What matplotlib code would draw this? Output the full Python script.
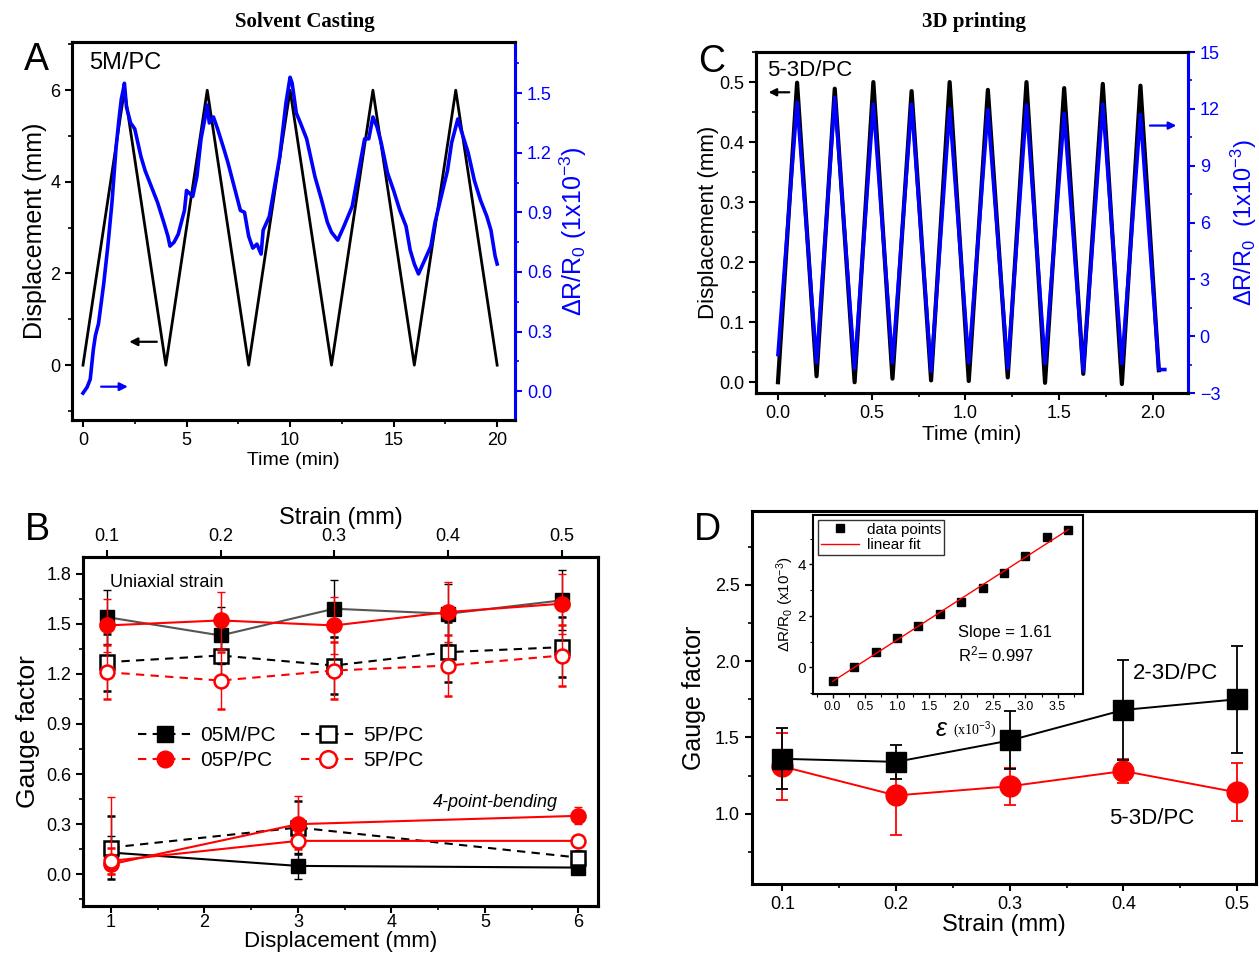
import numpy as np
import matplotlib
matplotlib.use("Agg")
import matplotlib.pyplot as plt
from matplotlib.ticker import MultipleLocator
from matplotlib.lines import Line2D

plt.rcParams['font.family'] = ['Liberation Sans', 'DejaVu Sans']
plt.rcParams['mathtext.fontset'] = 'custom'
plt.rcParams['mathtext.rm'] = 'Liberation Sans'
plt.rcParams['mathtext.it'] = 'Liberation Sans:italic'

BLUE = '#0000ff'
RED = '#ff0000'

# ---------------- Panel A data ----------------
a_time_disp = [0, 2, 4, 6, 8, 10, 12, 14, 16, 18, 20]
a_disp = [0, 6, 0, 6, 0, 6, 0, 6, 0, 6, 0]
a_time_res = [0.0, 0.2, 0.35, 0.5, 0.6, 0.75, 1.0, 1.2, 1.4, 1.6, 1.75, 1.85, 1.95, 2.0, 2.1,
              2.3, 2.5, 2.8, 3.0, 3.3, 3.6, 3.9, 4.1, 4.2, 4.4, 4.6, 4.9, 5.0, 5.3, 5.5,
              5.7, 5.9, 6.0, 6.1, 6.3, 6.5, 6.8, 7.0, 7.3, 7.6, 7.8, 8.0, 8.2, 8.4, 8.6,
              8.7, 9.0, 9.3, 9.5, 9.8, 10.0, 10.1, 10.3, 10.5, 10.8, 11.2, 11.5, 11.8, 12.0,
              12.3, 12.6, 13.0, 13.3, 13.6, 13.8, 14.0, 14.2, 14.4, 14.7, 15.0, 15.3, 15.6,
              15.8, 16.0, 16.2, 16.5, 16.8, 17.0, 17.3, 17.6, 17.8, 18.0, 18.1, 18.3, 18.6,
              18.9, 19.2, 19.5, 19.7, 19.9, 20.0]
a_res = [-0.01, 0.02, 0.06, 0.21, 0.28, 0.34, 0.54, 0.73, 0.95, 1.23, 1.38, 1.47, 1.52, 1.55, 1.43,
         1.35, 1.32, 1.18, 1.11, 1.03, 0.95, 0.85, 0.78, 0.73, 0.75, 0.79, 0.91, 1.01, 0.98, 1.08,
         1.27, 1.38, 1.44, 1.35, 1.38, 1.32, 1.22, 1.15, 1.03, 0.91, 0.90, 0.78, 0.72, 0.74, 0.69,
         0.81, 0.88, 1.06, 1.18, 1.45, 1.58, 1.55, 1.40, 1.35, 1.27, 1.08, 0.97, 0.85, 0.80,
         0.76, 0.83, 0.93, 1.10, 1.27, 1.27, 1.38, 1.33, 1.25, 1.10, 1.01, 0.91, 0.83,
         0.71, 0.64, 0.59, 0.66, 0.73, 0.85, 0.98, 1.11, 1.25, 1.33, 1.37, 1.30, 1.20,
         1.06, 0.96, 0.88, 0.81, 0.68, 0.64]

# ---------------- Panel C data ----------------
c_time = [0.0, 0.102, 0.206, 0.303, 0.409, 0.509, 0.611, 0.713, 0.817, 0.916, 1.018,
          1.12, 1.226, 1.326, 1.425, 1.527, 1.629, 1.733, 1.835, 1.934, 2.032]
c_disp = [0.0, 0.499, 0.01, 0.489, 0.0, 0.50, 0.006, 0.485, 0.003, 0.50, 0.002,
          0.487, 0.008, 0.50, -0.001, 0.49, 0.014, 0.497, -0.003, 0.494, 0.02]
c_time_res = [0.0, 0.102, 0.206, 0.303, 0.409, 0.509, 0.611, 0.713, 0.817, 0.916, 1.018,
              1.12, 1.226, 1.326, 1.425, 1.527, 1.629, 1.733, 1.835, 1.934, 2.032, 2.064]
c_res = [-0.97, 12.35, -1.4, 12.6, -1.7, 12.25, -1.4, 12.25, -1.85, 12.0, -1.4,
         11.95, -1.7, 12.2, -1.45, 11.75, -1.85, 12.25, -1.45, 11.7, -1.76, -1.76]

# ---------------- Panel B data ----------------
strain_b = [0.1, 0.2, 0.3, 0.4, 0.5]
gf_05M_uni = [1.54, 1.43, 1.59, 1.56, 1.64]
err_05M_uni = [0.16, 0.17, 0.17, 0.18, 0.18]
gf_05P_uni = [1.49, 1.52, 1.49, 1.57, 1.62]
err_05P_uni = [0.16, 0.17, 0.17, 0.18, 0.18]
gf_5Psq_uni = [1.27, 1.31, 1.25, 1.33, 1.36]
err_5Psq_uni = [0.17, 0.17, 0.17, 0.18, 0.18]
gf_5Pci_uni = [1.21, 1.16, 1.22, 1.25, 1.31]
err_5Pci_uni = [0.16, 0.17, 0.17, 0.18, 0.18]

disp_b = [1, 3, 6]
gf_05M_bend = [0.13, 0.05, 0.04]
err_05M_bend = [0.10, 0.08, 0.02]
gf_5Psq_bend = [0.16, 0.28, 0.10]
err_5Psq_bend = [0.19, 0.16, 0.04]
gf_05P_bend = [0.06, 0.30, 0.35]
err_05P_bend_low = [0.06, 0.12, 0.05]
err_05P_bend_high = [0.40, 0.17, 0.05]
gf_5Pci_bend = [0.08, 0.20, 0.20]
err_5Pci_bend = [0.08, 0.05, 0.03]

# ---------------- Panel D data ----------------
strain_d = [0.1, 0.2, 0.3, 0.4, 0.5]
gf_2_3D = [1.36, 1.34, 1.48, 1.68, 1.75]
err_2_3D = [0.20, 0.11, 0.19, 0.33, 0.35]
gf_5_3D = [1.31, 1.12, 1.18, 1.28, 1.14]
err_5_3D = [0.22, 0.26, 0.12, 0.08, 0.19]

inset_eps = [0.0, 0.333, 0.667, 1.0, 1.333, 1.667, 2.0, 2.333, 2.667, 3.0, 3.333, 3.667]
inset_dr = [-0.53, 0.0, 0.61, 1.12, 1.60, 2.06, 2.53, 3.08, 3.68, 4.31, 5.05, 5.32]

# ---------------- Figure ----------------
fig = plt.figure(figsize=(12.59, 9.57), dpi=100)

SPW = 2.2

def style_axes(ax):
    for s in ax.spines.values():
        s.set_linewidth(SPW)
    ax.tick_params(which='major', direction='out', length=5, width=1.5, labelsize=12)
    ax.tick_params(which='minor', direction='out', length=3, width=1.2)

# ---- Panel A ----
axA = fig.add_axes([0.0572, 0.561, 0.352, 0.395])
axA.plot(a_time_disp, a_disp, color='black', lw=2)
axA.set_xlim(-0.53, 20.87)
axA.set_ylim(-1.2, 7.05)
axA.xaxis.set_major_locator(MultipleLocator(5))
axA.xaxis.set_minor_locator(MultipleLocator(2.5))
axA.yaxis.set_major_locator(MultipleLocator(2))
axA.yaxis.set_minor_locator(MultipleLocator(1))
axA.set_xlabel('Time (min)', fontsize=14, labelpad=2)
axA.set_ylabel('Displacement (mm)', fontsize=18, labelpad=2)
style_axes(axA)
axA.tick_params(which='major', labelsize=13)
axA.annotate('', xy=(2.1, 0.51), xytext=(3.7, 0.51),
             arrowprops=dict(arrowstyle='-|>', color='black', lw=1.6, mutation_scale=12))
axA.annotate('', xy=(2.3, -0.47), xytext=(0.74, -0.47),
             arrowprops=dict(arrowstyle='-|>', color=BLUE, lw=1.6, mutation_scale=12))
axA.text(0.3, 6.6, '5M/PC', fontsize=17, va='center', ha='left')

axA2 = axA.twinx()
axA2.plot(a_time_res, a_res, color=BLUE, lw=2.6)
axA2.set_ylim(-0.146, 1.757)
axA2.yaxis.set_major_locator(MultipleLocator(0.3))
axA2.yaxis.set_minor_locator(MultipleLocator(0.15))
axA2.yaxis.set_major_formatter(matplotlib.ticker.FormatStrFormatter('%.1f'))
style_axes(axA2)
axA2.tick_params(which='major', labelsize=13)
axA2.spines['right'].set_color(BLUE)
axA2.tick_params(axis='y', which='both', colors=BLUE)
axA2.set_ylabel(r'$\Delta$R/R$_0$ (1x10$^{-3}$)', fontsize=18, color=BLUE, labelpad=4)

fig.text(0.242, 0.977, 'Solvent Casting', fontsize=15, fontweight='bold',
         family='Liberation Serif', ha='center', va='center')
fig.text(0.029, 0.937, 'A', fontsize=27, ha='center', va='center')

# ---- Panel C ----
axC = fig.add_axes([0.6005, 0.5893, 0.343, 0.3563])
axC.plot(c_time, c_disp, color='black', lw=3)
axC.set_xlim(-0.117, 2.187)
axC.set_ylim(-0.018, 0.55)
axC.xaxis.set_major_locator(MultipleLocator(0.5))
axC.xaxis.set_minor_locator(MultipleLocator(0.25))
axC.yaxis.set_major_locator(MultipleLocator(0.1))
axC.yaxis.set_minor_locator(MultipleLocator(0.05))
axC.yaxis.set_major_formatter(matplotlib.ticker.FormatStrFormatter('%.1f'))
axC.xaxis.set_major_formatter(matplotlib.ticker.FormatStrFormatter('%.1f'))
axC.set_xlabel('Time (min)', fontsize=15, labelpad=2)
axC.set_ylabel('Displacement (mm)', fontsize=16, labelpad=0)
style_axes(axC)
axC.tick_params(which='major', labelsize=13)
axC.annotate('', xy=(-0.065, 0.483), xytext=(0.075, 0.483),
             arrowprops=dict(arrowstyle='-|>', color='black', lw=1.6, mutation_scale=11))
axC.text(-0.06, 0.52, '5-3D/PC', fontsize=16, va='center', ha='left')

axC2 = axC.twinx()
axC2.plot(c_time_res, c_res, color=BLUE, lw=2.6)
axC2.set_ylim(-3, 15)
axC2.yaxis.set_major_locator(MultipleLocator(3))
axC2.yaxis.set_minor_locator(MultipleLocator(1.5))
style_axes(axC2)
axC2.tick_params(which='major', labelsize=13)
axC2.spines['right'].set_color(BLUE)
axC2.tick_params(axis='y', which='both', colors=BLUE)
axC2.set_ylabel(r'$\Delta$R/R$_0$  (1x10$^{-3}$)', fontsize=17, color=BLUE, labelpad=6)
axC2.annotate('', xy=(2.14, 11.12), xytext=(1.97, 11.12),
              arrowprops=dict(arrowstyle='-|>', color=BLUE, lw=1.6, mutation_scale=11))

fig.text(0.774, 0.977, '3D printing', fontsize=15, fontweight='bold',
         family='Liberation Serif', ha='center', va='center')
fig.text(0.565, 0.935, 'C', fontsize=27, ha='center', va='center')

# ---- Panel B ----
axB = fig.add_axes([0.0659, 0.0533, 0.409, 0.3647])
axB.set_xlim(0.70, 6.21)
axB.set_ylim(-0.19, 1.90)
axB.xaxis.set_major_locator(MultipleLocator(1))
axB.xaxis.set_minor_locator(MultipleLocator(0.5))
axB.yaxis.set_major_locator(MultipleLocator(0.3))
axB.yaxis.set_minor_locator(MultipleLocator(0.15))
axB.yaxis.set_major_formatter(matplotlib.ticker.FormatStrFormatter('%.1f'))
style_axes(axB)
axB.tick_params(which='major', labelsize=13)
axB.tick_params(axis='x', which='major', pad=1)
axB.set_xlabel('Displacement (mm)', fontsize=16, labelpad=0)
axB.set_ylabel('Gauge factor', fontsize=19, labelpad=4)

DASH = (0, (4, 3))
ebkw = dict(capsize=3, elinewidth=1, capthick=1)
# bending (bottom axis)
axB.errorbar(disp_b, gf_05M_bend, yerr=err_05M_bend, color='black', lw=1.5, marker='s',
             ms=10, mfc='black', mec='black', ecolor='black', zorder=3, **ebkw)
axB.errorbar(disp_b, gf_5Psq_bend, yerr=err_5Psq_bend, color='black', ls=DASH, lw=1.5,
             marker='s', ms=10, mfc='white', mec='black', mew=1.8, ecolor='black', zorder=3, **ebkw)
axB.errorbar(disp_b, gf_05P_bend, yerr=[err_05P_bend_low, err_05P_bend_high], color=RED,
             lw=1.5, marker='o', ms=11, mfc=RED, mec=RED, ecolor=RED, zorder=4, **ebkw)
axB.errorbar(disp_b, gf_5Pci_bend, yerr=err_5Pci_bend, color=RED, lw=1.5, marker='o',
             ms=10, mfc='white', mec=RED, mew=1.8, ecolor=RED, zorder=4, **ebkw)

axB.text(0.99, 1.75, 'Uniaxial strain', fontsize=13, ha='left', va='center')
axB.text(5.78, 0.43, '4-point-bending', fontsize=13, ha='right', va='center', style='italic')

axBt = axB.twiny()
axBt.set_xlim(0.079, 0.532)
axBt.xaxis.set_major_locator(MultipleLocator(0.1))
axBt.xaxis.set_major_formatter(matplotlib.ticker.FormatStrFormatter('%.1f'))
style_axes(axBt)
axBt.tick_params(which='major', labelsize=13)
axBt.set_xlabel('Strain (mm)', fontsize=17, labelpad=3)
axBt.errorbar(strain_b, gf_05M_uni, yerr=err_05M_uni, color='#555555', lw=1.5, marker='s',
              ms=10, mfc='black', mec='black', ecolor='black', zorder=3, **ebkw)
axBt.errorbar(strain_b, gf_5Psq_uni, yerr=err_5Psq_uni, color='black', ls=DASH, lw=1.5,
              marker='s', ms=10, mfc='white', mec='black', mew=1.8, ecolor='black', zorder=3, **ebkw)
axBt.errorbar(strain_b, gf_05P_uni, yerr=err_05P_uni, color=RED, lw=1.5, marker='o',
              ms=11, mfc=RED, mec=RED, ecolor=RED, zorder=4, **ebkw)
axBt.errorbar(strain_b, gf_5Pci_uni, yerr=err_5Pci_uni, color=RED, ls=DASH, lw=1.5,
              marker='o', ms=10, mfc='white', mec=RED, mew=1.8, ecolor=RED, zorder=4, **ebkw)

handles = [
    Line2D([], [], color='black', ls=DASH, lw=1.5, marker='s', ms=11, mfc='black', mec='black'),
    Line2D([], [], color=RED, ls=DASH, lw=1.5, marker='o', ms=12, mfc=RED, mec=RED),
    Line2D([], [], color='black', ls=DASH, lw=1.5, marker='s', ms=11, mfc='white', mec='black', mew=1.8),
    Line2D([], [], color=RED, ls=DASH, lw=1.5, marker='o', ms=12, mfc='white', mec=RED, mew=1.8),
]
labels = ['05M/PC', '05P/PC', '5P/PC', '5P/PC']
axB.legend(handles, labels, ncol=2, frameon=False, fontsize=15, loc='upper left',
           bbox_to_anchor=(0.07, 0.57), handlelength=2.6, handletextpad=0.4,
           columnspacing=1.2, labelspacing=0.3)

fig.text(0.030, 0.446, 'B', fontsize=27, ha='center', va='center')

# ---- Panel D ----
axD = fig.add_axes([0.597, 0.0763, 0.401, 0.39])
axD.set_xlim(0.073, 0.517)
axD.set_ylim(0.54, 2.985)
axD.xaxis.set_major_locator(MultipleLocator(0.1))
axD.xaxis.set_minor_locator(MultipleLocator(0.05))
axD.yaxis.set_major_locator(MultipleLocator(0.5))
axD.yaxis.set_minor_locator(MultipleLocator(0.25))
axD.xaxis.set_major_formatter(matplotlib.ticker.FormatStrFormatter('%.1f'))
axD.yaxis.set_major_formatter(matplotlib.ticker.FormatStrFormatter('%.1f'))
style_axes(axD)
axD.tick_params(which='major', labelsize=13)
axD.set_xlabel('Strain (mm)', fontsize=17, labelpad=1)
axD.set_ylabel('Gauge factor', fontsize=18, labelpad=6)
axD.errorbar(strain_d, gf_5_3D, yerr=err_5_3D, color=RED, lw=1.4, marker='o', ms=15,
             mfc=RED, mec=RED, ecolor=RED, capsize=4, elinewidth=1.3, capthick=1.3, zorder=3)
axD.errorbar(strain_d, gf_2_3D, yerr=err_2_3D, color='black', lw=1.4, marker='s', ms=15,
             mfc='black', mec='black', ecolor='black', capsize=4, elinewidth=1.3, capthick=1.3, zorder=4)
axD.text(0.408, 1.92, '2-3D/PC', fontsize=16, ha='left', va='center')
axD.text(0.387, 0.97, '5-3D/PC', fontsize=16, ha='left', va='center')
fig.text(0.562, 0.446, 'D', fontsize=27, ha='center', va='center')

# inset
axI = fig.add_axes([0.6458, 0.2748, 0.2144, 0.187])
axI.plot(inset_eps, inset_dr, ls='none', marker='s', ms=6, color='black', label='data points')
fit = np.polyfit(inset_eps, inset_dr, 1)
xf = np.array([inset_eps[0], inset_eps[-1]])
axI.plot(xf, np.polyval(fit, xf), color=RED, lw=1.0, label='linear fit')
axI.set_xlim(-0.305, 3.895)
axI.set_ylim(-1.04, 5.92)
axI.xaxis.set_major_locator(MultipleLocator(0.5))
axI.xaxis.set_minor_locator(MultipleLocator(0.25))
axI.yaxis.set_major_locator(MultipleLocator(2))
axI.yaxis.set_minor_locator(MultipleLocator(1))
axI.xaxis.set_major_formatter(matplotlib.ticker.FormatStrFormatter('%.1f'))
for s in axI.spines.values():
    s.set_linewidth(1.5)
axI.tick_params(which='major', direction='out', length=3, width=1, labelsize=9, pad=2)
axI.tick_params(which='minor', direction='out', length=2, width=0.8)
axI.tick_params(axis='y', labelsize=11)
axI.set_ylabel(r'$\Delta$R/R$_0$ (x10$^{-3}$)', fontsize=11, labelpad=1)
axI.text(0.5, -0.2, r'$\epsilon$', fontsize=18, family='Liberation Serif',
         transform=axI.transAxes, ha='right', va='center')
axI.text(0.52, -0.2, r'(x10$^{-3}$)', fontsize=10, family='Liberation Serif',
         transform=axI.transAxes, ha='left', va='center')
axI.text(1.95, 1.35, 'Slope = 1.61', fontsize=12, ha='left', va='center')
axI.text(1.95, 0.5, r'R$^2$= 0.997', fontsize=12, ha='left', va='center')
leg = axI.legend(loc='upper left', fontsize=11, frameon=True, fancybox=False,
                 edgecolor='black', handlelength=2.5, borderpad=0.2,
                 borderaxespad=0.3, labelspacing=0.1, handletextpad=0.5)
leg.get_frame().set_linewidth(1.0)

fig.savefig('out.png', dpi=100)
